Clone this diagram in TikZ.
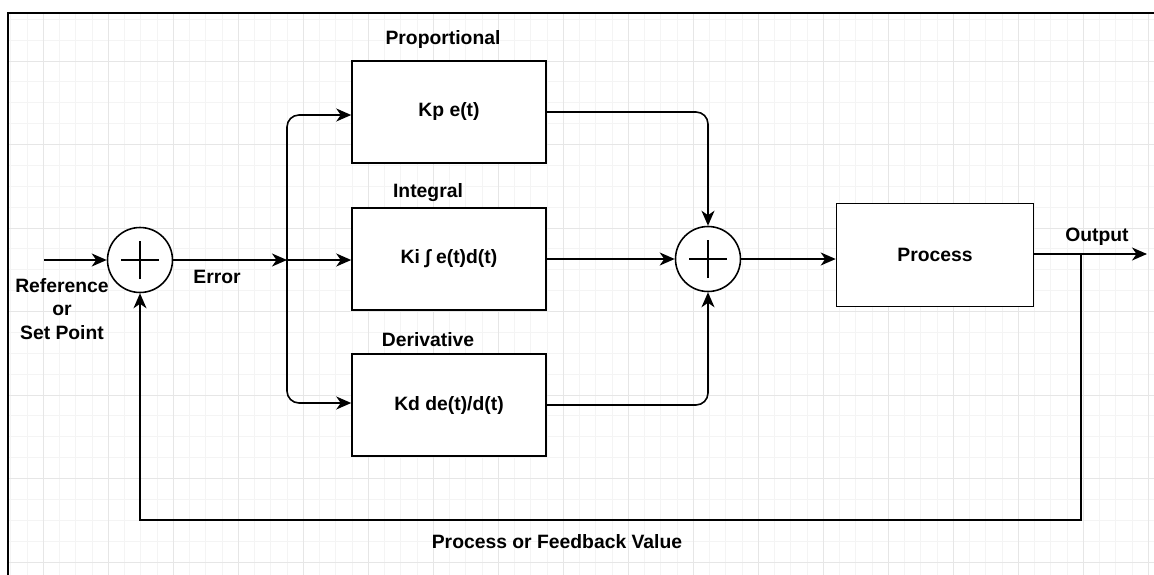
\documentclass[tikz,border=0pt]{standalone}
\usepackage{fontspec}
\setmainfont{Liberation Sans}
\usetikzlibrary{arrows.meta, positioning}

\begin{document}
\begin{tikzpicture}[x=0.02cm, y=-0.02cm,
    font=\bfseries\fontsize{11}{13.6}\selectfont,
    block/.style={draw, fill=white, line width=0.9pt, minimum width=3.88cm, minimum height=2.04cm},
    sumnode/.style={draw, fill=white, circle, line width=0.9pt, minimum size=1.3cm, inner sep=0pt,
        path picture={
            \draw[line width=0.9pt] (path picture bounding box.center) ++(-0.38cm,0) -- ++(0.76cm,0);
            \draw[line width=0.9pt] (path picture bounding box.center) ++(0,-0.38cm) -- ++(0,0.76cm);
        }},
    wire/.style={line width=0.9pt, rounded corners=0.24cm},
    flow/.style={wire, -{Stealth[length=0.3cm, width=0.26cm, inset=0.09cm]}}]
    % Define colours
    \definecolor{minorGrid}{HTML}{F4F4F4}
    \definecolor{majorGrid}{HTML}{E6E6E6}

    % Fix the canvas
    \useasboundingbox (0,0) rectangle (1154,575);

    % Draw grid
    \foreach \i in {0,...,70}
        \draw[minorGrid, line width=0.5pt] (10.75+16.25*\i,13) -- (10.75+16.25*\i,575);
    \foreach \j in {0,...,26}
        \draw[minorGrid, line width=0.5pt] (8,19.25+20.875*\j) -- (1154,19.25+20.875*\j);
    \foreach \i in {0,...,17}
        \draw[majorGrid, line width=0.5pt] (43+65*\i,13) -- (43+65*\i,575);
    \foreach \j in {0,...,6}
        \draw[majorGrid, line width=0.5pt] (8,61+83.5*\j) -- (1154,61+83.5*\j);

    % Draw frame
    \draw[line width=1.2pt] (8,575) -- (8,13) -- (1154,13);

    % Summing junctions
    \node[sumnode] (sumA) at (140,260) {};
    \node[sumnode] (sumB) at (708,259) {};

    % Controller terms
    \node[block] (prop)  at (449,112) {Kp e(t)};
    \node[block] (integ) at (449,259) {Ki ∫ e(t)d(t)};
    \node[block] (deriv) at (449,405) {Kd de(t)/d(t)};

    % Plant
    \node[block, minimum width=3.94cm, minimum height=2.06cm] (proc) at (935,255) {Process};

    % Labels
    \node (lProp)  at (443,40)  {Proportional};
    \node (lInteg) at (428,193) {Integral};
    \node (lDeriv) at (428,340) {Derivative};
    \node[align=center] (lRef) at (62,309) {Reference\\or\\Set Point};
    \node (lErr) at (217,277) {Error};
    \node (lOut) at (1097,237) {Output};
    \node (lFb)  at (557,542) {Process or Feedback Value};

    % Helper points
    \coordinate (inStart) at (44,260);
    \coordinate (branch) at (287,260);
    \coordinate (outEnd) at (1147,254);
    \coordinate (tap) at (1081,254);
    \coordinate (fbR) at (1081,520);
    \coordinate (fbL) at (sumA |- fbR);

    % Forward path
    \draw[flow] (inStart) -- (sumA);
    \draw[flow] (sumA) -- (branch);
    \draw[flow] (branch) |- (prop.west |- 0,115);
    \draw[flow] (branch) -- (branch -| integ.west);
    \draw[flow] (branch) |- (deriv.west |- 0,403);
    \draw[flow] (prop) -| (sumB);
    \draw[flow] (integ) -- (sumB);
    \draw[flow] (deriv) -| (sumB);
    \draw[flow] (sumB.east) -- (sumB.east -| proc.west);
    \draw[flow] (proc.east |- outEnd) -- (outEnd);

    % Feedback path
    \draw[flow, rounded corners=0pt] (tap) -- (fbR) -- (fbL) -- (sumA);
\end{tikzpicture}
\end{document}
